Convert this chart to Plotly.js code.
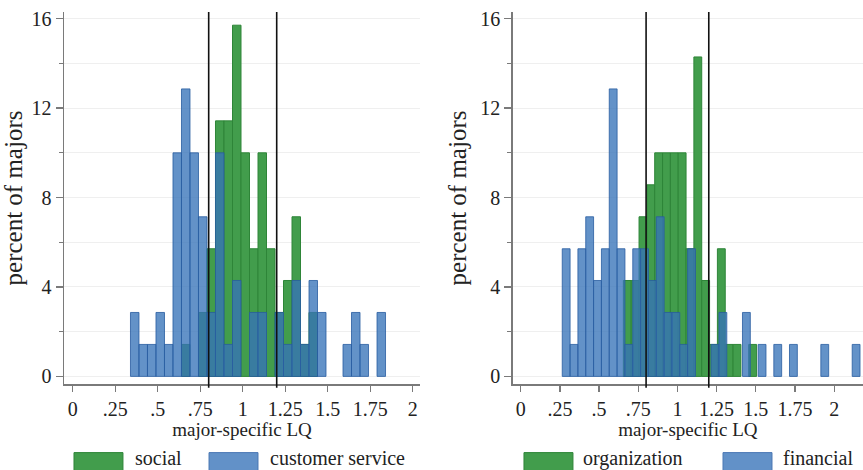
<!DOCTYPE html>
<html>
<head>
<meta charset="utf-8">
<script src="https://cdn.plot.ly/plotly-3.0.1.min.js"></script>
<style>
html,body{margin:0;padding:0;background:#fff;}
#chart{width:863px;height:470px;}
</style>
</head>
<body>
<div id="chart"></div>
<script>
// ---- data (percent of majors per LQ bin) ----
const binWidth = 0.05;

const leftBinStart = 0.34;
const leftSocial = [0, 0, 0, 0, 0, 0, 1.43, 0, 2.86, 5.71, 11.43, 11.43, 15.71, 10, 5.71, 10, 5.71, 2.86, 4.29, 7.14, 1.43, 2.86];
const leftCustomerService = [2.86, 1.43, 1.43, 2.86, 1.43, 10, 12.86, 10, 7.14, 2.86, 10, 1.43, 4.29, 0, 2.86, 2.86, 0, 2.86, 1.43, 4.29, 1.43, 4.29, 2.86, 0, 0, 1.43, 2.86, 1.43, 0, 2.86];

const rightOrgStart = 0.655;
const rightOrganization = [4.29, 4.29, 7.14, 8.57, 10, 10, 10, 10, 5.71, 14.29, 4.29, 1.43, 5.71, 1.43, 1.43, 0, 1.43];
const rightFinStart = 0.265;
const rightFinancial = [5.71, 1.43, 5.71, 7.14, 4.29, 5.71, 12.86, 5.71, 1.43, 5.71, 5.71, 4.29, 7.14, 2.86, 2.86, 1.43, 5.71, 0, 0, 1.43, 2.86, 0, 0, 2.86, 0, 1.43, 0, 1.43, 0, 1.43, 0, 0, 0, 1.43, 0, 0, 0, 1.43];

const cutoffs = [0.8, 1.2];
const xTickVals = [0, 0.25, 0.5, 0.75, 1, 1.25, 1.5, 1.75, 2];
const xTickText = ['0', '.25', '.5', '.75', '1', '1.25', '1.5', '1.75', '2'];
const yTickVals = [0, 4, 8, 12, 16];
const legendLeft = ['social', 'customer service'];
const legendRight = ['organization', 'financial'];

// ---- styling ----
const SERIF = '"Liberation Serif", "Times New Roman", serif';
const GREEN = 'rgb(66,157,76)';
const GREEN_LINE = 'rgb(46,133,56)';
const BLUE = 'rgba(55,115,185,0.78)';
const BLUE_LINE = 'rgba(40,92,160,0.8)';
const AXIS = '#7a7a7a';
const GRID = '#efefef';

function centers(start, arr) { return arr.map((_, i) => start + binWidth * (i + 0.5)); }
function heights(arr) { return arr.map(v => v === 0 ? null : v); }

function barTrace(start, arr, fill, line, xa, ya, name) {
  return {
    type: 'bar', name: name,
    x: centers(start, arr), y: heights(arr),
    width: binWidth,
    xaxis: xa, yaxis: ya,
    marker: {color: fill, line: {color: line, width: 1}},
    hoverinfo: 'x+y', showlegend: false
  };
}

const traces = [
  barTrace(leftBinStart, leftSocial, GREEN, GREEN_LINE, 'x', 'y', legendLeft[0]),
  barTrace(leftBinStart, leftCustomerService, BLUE, BLUE_LINE, 'x', 'y', legendLeft[1]),
  barTrace(rightOrgStart, rightOrganization, GREEN, GREEN_LINE, 'x2', 'y2', legendRight[0]),
  barTrace(rightFinStart, rightFinancial, BLUE, BLUE_LINE, 'x2', 'y2', legendRight[1])
];

function xAxis(domain, range, anchor) {
  return {
    domain: domain, range: range, anchor: anchor,
    tickvals: xTickVals, ticktext: xTickText,
    ticks: 'outside', ticklen: 6, tickwidth: 1.3, tickcolor: AXIS,
    showline: true, linecolor: AXIS, linewidth: 1.5,
    showgrid: false, zeroline: false,
    tickfont: {family: SERIF, size: 20, color: '#222'},
    title: {text: 'major-specific LQ', font: {family: SERIF, size: 19, color: '#222'}, standoff: 1}
  };
}
function yAxis(anchor) {
  return {
    domain: [0, 1], range: [-0.34, 16.3], anchor: anchor,
    tickvals: yTickVals,
    ticks: 'outside', ticklen: 7, tickwidth: 1.3, tickcolor: AXIS,
    showline: true, linecolor: AXIS, linewidth: 1.5,
    showgrid: true, gridcolor: GRID, gridwidth: 1, zeroline: false,
    minor: {dtick: 2, ticks: 'outside', ticklen: 4, tickcolor: AXIS, showgrid: true, gridcolor: GRID},
    tickfont: {family: SERIF, size: 20, color: '#222'},
    title: {text: 'percent of majors', font: {family: SERIF, size: 25, color: '#222'}, standoff: 6}
  };
}

const shapes = [];
[['x', 'y'], ['x2', 'y2']].forEach(([xa, ya]) => {
  cutoffs.forEach(c => shapes.push({
    type: 'line', xref: xa, yref: ya + ' domain',
    x0: c, x1: c, y0: -0.01, y1: 1,
    line: {color: '#111', width: 1.6}, layer: 'above'
  }));
});

// legend (manual, below panels)
const legendItems = [
  {x0: 0.0125, x1: 0.0738, tx: 0.0864, color: GREEN, line: GREEN_LINE, text: legendLeft[0]},
  {x0: 0.1815, x1: 0.2428, tx: 0.2553, color: 'rgb(98,145,200)', line: 'rgb(75,120,180)', text: legendLeft[1]},
  {x0: 0.5757, x1: 0.6370, tx: 0.6471, color: GREEN, line: GREEN_LINE, text: legendRight[0]},
  {x0: 0.8248, x1: 0.8861, tx: 0.8974, color: 'rgb(98,145,200)', line: 'rgb(75,120,180)', text: legendRight[1]}
];
const annotations = [];
legendItems.forEach(it => {
  shapes.push({type: 'rect', xref: 'paper', yref: 'paper', x0: it.x0, x1: it.x1, y0: -0.237, y1: -0.1844,
    fillcolor: it.color, line: {color: it.line, width: 1}});
  annotations.push({xref: 'paper', yref: 'paper', x: it.tx, y: -0.2, xanchor: 'left', yanchor: 'middle',
    text: it.text, showarrow: false, font: {family: SERIF, size: 20, color: '#222'}});
});

const layout = {
  width: 863, height: 470,
  margin: {l: 64, r: 0, t: 12, b: 86},
  paper_bgcolor: '#fff', plot_bgcolor: '#fff',
  barmode: 'overlay', bargap: 0,
  showlegend: false,
  xaxis: xAxis([0, 0.4456], [-0.051, 2.043], 'y'),
  yaxis: yAxis('x'),
  xaxis2: xAxis([0.5616, 1], [-0.051, 2.184], 'y2'),
  yaxis2: yAxis('x2'),
  shapes: shapes,
  annotations: annotations
};

Plotly.newPlot('chart', traces, layout, {displayModeBar: false, staticPlot: true});
</script>
</body>
</html>
